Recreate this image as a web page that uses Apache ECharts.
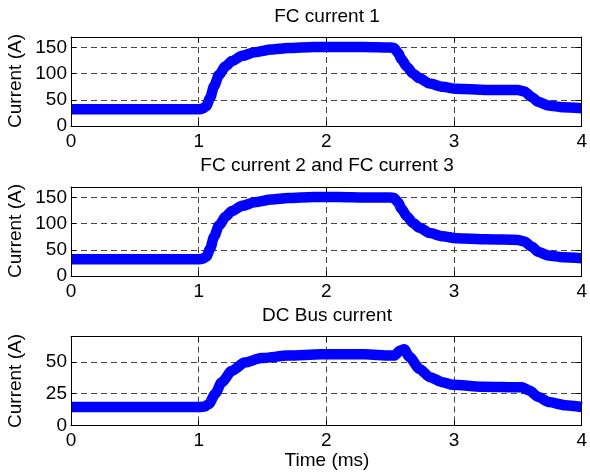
<!DOCTYPE html>
<html>
<head>
<meta charset="utf-8">
<script src="https://cdn.jsdelivr.net/npm/echarts@6/dist/echarts.min.js"></script>
<style>
html,body{margin:0;padding:0;background:#fff;}
#chart{width:590px;height:472px;}
</style>
</head>
<body>
<div id="chart"></div>
<script>
// ---- data ----
var titles = ['FC current 1', 'FC current 2 and FC current 3', 'DC Bus current'];
var yLabel = 'Current (A)';
var xLabel = 'Time (ms)';

var time1 = [0, 0.5, 1.0, 1.03, 1.06, 1.09, 1.12, 1.16, 1.21, 1.26, 1.34, 1.44, 1.57, 1.7, 1.9, 2.1, 2.3, 2.5, 2.53, 2.56, 2.59, 2.63, 2.68, 2.73, 2.81, 2.91, 3.02, 3.25, 3.5, 3.55, 3.61, 3.66, 3.74, 3.85, 4.0];
var fc1   = [32, 32, 32, 33, 38, 54, 76, 98, 114, 124, 134, 141, 146, 149, 151, 151, 151, 150, 149, 140, 127, 113, 100, 91, 81, 75, 71, 69, 69, 66, 55, 46, 39, 36, 34];

var time2 = [0, 0.5, 1.0, 1.03, 1.06, 1.09, 1.12, 1.16, 1.21, 1.26, 1.34, 1.44, 1.57, 1.7, 1.9, 2.1, 2.3, 2.5, 2.53, 2.56, 2.59, 2.63, 2.68, 2.73, 2.81, 2.91, 3.02, 3.25, 3.5, 3.55, 3.61, 3.66, 3.74, 3.85, 4.0];
var fc23  = [32, 32, 32, 33, 37, 52, 75, 97, 113, 124, 134, 141, 146, 149, 151, 151, 150, 150, 149, 141, 128, 114, 101, 92, 82, 76, 72, 70, 69, 66, 56, 46, 39, 36, 34];

var time3 = [0, 0.5, 1.0, 1.05, 1.08, 1.13, 1.18, 1.26, 1.36, 1.49, 1.7, 1.96, 2.3, 2.5, 2.53, 2.58, 2.61, 2.65, 2.73, 2.81, 2.91, 2.99, 3.22, 3.53, 3.59, 3.66, 3.74, 3.87, 4.0];
var dcBus = [14.5, 14.5, 14.5, 15, 17, 25, 34, 43, 49.5, 53, 55, 56, 56, 55, 55, 59, 60, 54, 44.5, 38, 34, 32, 30.5, 30, 27.5, 22.5, 18.5, 16, 14.5];

var yMax = [170, 170, 70];
var yStep = [50, 50, 25];
var xMin = 0, xMax = 4, xStep = 1;

// ---- build chart ----
var FONT = 'Liberation Sans, Arial, sans-serif';
var FS = 19;
var gridTops = [37, 187, 336.5];
var gridH = 89;
var plotLeft = 71, plotRight = 3.3;
var plotCenterX = 327;
var titleY = [17, 166, 315.5];
var yLabelY = [81, 231, 381];

function pairs(t, v) { return t.map(function (x, i) { return [x, v[i]]; }); }
var seriesData = [pairs(time1, fc1), pairs(time2, fc23), pairs(time3, dcBus)];

var grids = [], xAxes = [], yAxes = [], series = [], graphics = [];
var dash = { color: '#444', width: 1, type: [6, 4] };
var black = { color: '#000', width: 1 };

function xAx(i, pos, opts) {
  var base = {
    gridIndex: i, type: 'value', min: xMin, max: xMax, interval: xStep, position: pos,
    axisLine: { show: false, onZero: false }, axisTick: { show: false },
    axisLabel: { show: false }, splitLine: { show: false }, z: 0
  };
  return Object.assign(base, opts);
}
function yAx(i, pos, opts) {
  var base = {
    gridIndex: i, type: 'value', min: 0, max: yMax[i], interval: yStep[i], position: pos,
    axisLine: { show: false, onZero: false }, axisTick: { show: false },
    axisLabel: { show: false }, splitLine: { show: false }, z: 0
  };
  return Object.assign(base, opts);
}

for (var i = 0; i < 3; i++) {
  grids.push({ left: plotLeft, right: plotRight, top: gridTops[i], height: gridH });
  // x axes: [0] bottom with labels + border, [1] top border, [2] grid lines
  xAxes.push(xAx(i, 'bottom', {
    axisLine: { show: true, onZero: false, lineStyle: black },
    axisTick: { show: true, inside: true, length: 5, lineStyle: black },
    axisLabel: { show: true, color: '#000', fontSize: FS, fontFamily: FONT, margin: 6 },
    z: 3
  }));
  xAxes.push(xAx(i, 'top', {
    axisLine: { show: true, onZero: false, lineStyle: black },
    axisTick: { show: true, inside: true, length: 5, lineStyle: black },
    z: 3
  }));
  xAxes.push(xAx(i, 'bottom', { splitLine: { show: true, lineStyle: dash }, z: 0 }));
  // y axes: [0] left with labels + border, [1] right border, [2] grid lines
  yAxes.push(yAx(i, 'left', {
    axisLine: { show: true, onZero: false, lineStyle: black },
    axisTick: { show: true, inside: true, length: 5, lineStyle: black },
    axisLabel: { show: true, color: '#000', fontSize: FS, fontFamily: FONT, margin: 4, showMaxLabel: false },
    z: 3
  }));
  yAxes.push(yAx(i, 'right', {
    axisLine: { show: true, onZero: false, lineStyle: black },
    axisTick: { show: true, inside: true, length: 5, lineStyle: black },
    z: 3
  }));
  yAxes.push(yAx(i, 'left', { splitLine: { show: true, lineStyle: dash }, z: 0 }));

  series.push({
    type: 'line',
    xAxisIndex: i * 3, yAxisIndex: i * 3,
    data: seriesData[i],
    showSymbol: false,
    smooth: 0.25,
    smoothMonotone: 'x',
    lineStyle: { color: '#0000ff', width: 10.5, cap: 'butt', join: 'round' },
    z: 2,
    animation: false
  });
  graphics.push({
    type: 'text', x: plotCenterX, y: titleY[i],
    style: { text: titles[i], fill: '#000', font: FS + 'px ' + FONT, align: 'center', verticalAlign: 'middle' }
  });
  graphics.push({
    type: 'text', x: 16, y: yLabelY[i], rotation: Math.PI / 2,
    style: { text: yLabel, fill: '#000', font: FS + 'px ' + FONT, align: 'center', verticalAlign: 'middle' }
  });
}
graphics.push({
  type: 'text', x: plotCenterX, y: 461,
  style: { text: xLabel, fill: '#000', font: FS + 'px ' + FONT, align: 'center', verticalAlign: 'middle' }
});

var chart = echarts.init(document.getElementById('chart'), null, { renderer: 'canvas' });
chart.setOption({
  animation: false,
  backgroundColor: '#fff',
  grid: grids,
  xAxis: xAxes,
  yAxis: yAxes,
  series: series,
  graphic: graphics
});
</script>
</body>
</html>
